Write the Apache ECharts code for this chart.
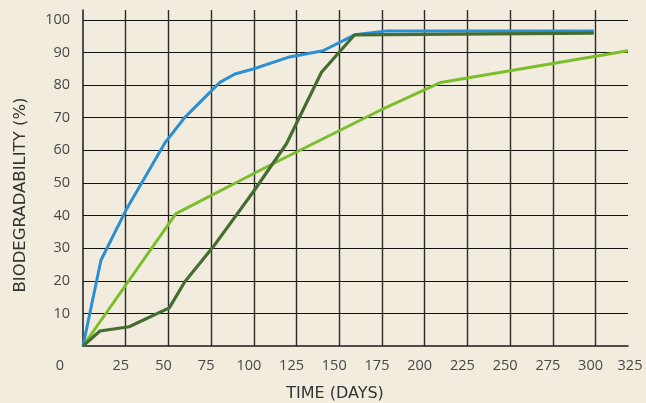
<!DOCTYPE html>
<html>
<head>
<meta charset="utf-8">
<script src="https://cdn.jsdelivr.net/npm/echarts@6/dist/echarts.min.js"></script>
<style>
html,body{margin:0;padding:0;background:#f2ecdf;}
#main{width:646px;height:403px;}
</style>
</head>
<body>
<div id="main"></div>
<script>
// ---- data ----
const xTickLabels = ['0','25','50','75','100','125','150','175','200','225','250','275','300','325'];
const yTickLabels = ['', '10','20','30','40','50','60','70','80','90','100'];

const blueX = [0, 10.5, 25.6, 48, 59.6, 80.1, 88.9, 99.6, 120, 140.5, 159, 178, 299];
const blueY = [0, 26.3, 42.1, 62.3, 70.1, 80.8, 83.4, 84.9, 88.5, 90.5, 95.4, 96.6, 96.6];

const darkX = [0, 9.9, 27, 50.5, 59.6, 76.2, 99.6, 119.1, 139.6, 159, 299];
const darkY = [0, 4.6, 5.9, 11.7, 19.7, 30.4, 47.2, 62, 83.9, 95.4, 95.9];

const lightX = [0, 54.4, 109.4, 173.7, 209.4, 319];
const lightY = [0, 40.6, 55.4, 72.2, 80.8, 90.5];

const xTitle = 'TIME (DAYS)';
const yTitle = 'BIODEGRADABILITY (%)';

function pairs(xs, ys){ return xs.map((x,i)=>[x, ys[i]]); }

const FONT = '"Open Sans"';
const TFONT = '"DejaVu Sans"';
const LBL = '#474747';
const chart = echarts.init(document.getElementById('main'), null, {renderer:'canvas'});
chart.setOption({
  backgroundColor: '#f2ecdf',
  animation: false,
  grid: {left: 83, right: 18, top: 10, bottom: 57, containLabel: false},
  xAxis: {
    type: 'value', min: 0, max: 319, interval: 25,
    axisLine: {show: true, lineStyle: {color: '#1a1a1a', width: 1.5}},
    axisTick: {show: false},
    splitLine: {show: true, showMinLine: false, showMaxLine: false, lineStyle: {color: '#2e2a26', width: 1.4}},
    axisLabel: {
      margin: 12, fontFamily: FONT, fontSize: 14.5, color: LBL,
      formatter: function(v, i){
        const t = xTickLabels[i] !== undefined ? xTickLabels[i] : '';
        if (i === 0) return '{z|' + t + '}';
        if (i === xTickLabels.length - 1) return '{e|' + t + '}';
        return '{a|' + t + '}';
      },
      rich: {
        z: {padding: [0, 46, 0, 0], fontFamily: FONT, fontSize: 14.5, color: LBL},
        a: {padding: [0, 10, 0, 0], fontFamily: FONT, fontSize: 14.5, color: LBL},
        e: {padding: [0, 0, 0, 4], fontFamily: FONT, fontSize: 14.5, color: LBL}
      }
    }
  },
  yAxis: {
    type: 'value', min: 0, max: 103, interval: 10,
    axisLine: {show: true, lineStyle: {color: '#1a1a1a', width: 1.5}},
    axisTick: {show: false},
    splitLine: {show: true, showMinLine: false, showMaxLine: false, lineStyle: {color: '#111', width: 1.2}},
    axisLabel: {
      margin: 13, fontFamily: FONT, fontSize: 14.5, color: LBL,
      showMinLabel: false, showMaxLabel: false,
      formatter: function(v, i){ return yTickLabels[i] !== undefined ? yTickLabels[i] : ''; }
    }
  },
  graphic: [
    {type: 'text', x: 335, y: 394, style: {text: xTitle, font: '16px ' + TFONT, fill: '#333', align: 'center', verticalAlign: 'middle'}},
    {type: 'text', x: 21, y: 195, rotation: Math.PI / 2, style: {text: yTitle, font: '16.5px ' + TFONT, fill: '#333', align: 'center', verticalAlign: 'middle'}}
  ],
  series: [
    {type: 'line', data: pairs(lightX, lightY), symbol: 'none', lineStyle: {color: '#7cbd2b', width: 3}, z: 2},
    {type: 'line', data: pairs(blueX, blueY), symbol: 'none', lineStyle: {color: '#2b8fd6', width: 3}, z: 3},
    {type: 'line', data: pairs(darkX, darkY), symbol: 'none', lineStyle: {color: '#466d30', width: 3.2}, z: 4}
  ]
});
</script>
</body>
</html>
